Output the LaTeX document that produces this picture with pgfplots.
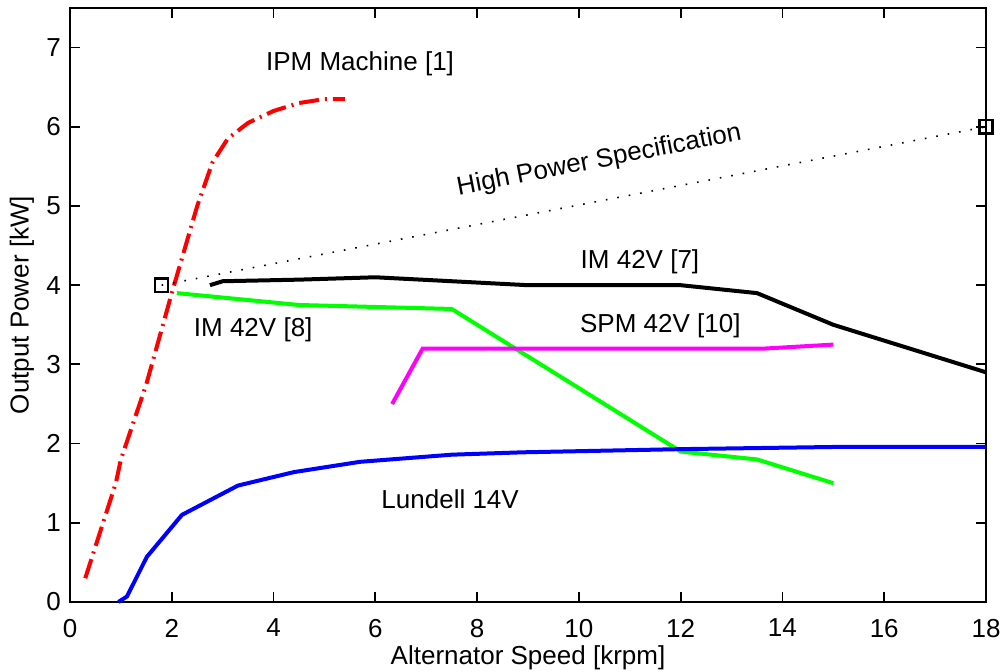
\documentclass[border=0pt]{standalone}
\usepackage{pgfplots}
\pgfplotsset{compat=1.18}
\usepackage{fontspec}
\setmainfont{Liberation Sans}
\definecolor{mgreen}{rgb}{0,1,0}
\definecolor{mmag}{rgb}{1,0,1}
\definecolor{mblue}{rgb}{0,0,1}
\definecolor{mred}{rgb}{1,0,0}
\begin{document}
\fontsize{13}{15}\selectfont
\begin{tikzpicture}
\begin{axis}[
  scale only axis,
  width=458pt, height=297pt,
  xmin=0, xmax=18, ymin=0, ymax=7.5,
  xtick={0,2,...,18}, ytick={0,1,...,7},
  tick align=inside, tick pos=both,
  major tick length=5pt,
  axis line style={line width=0.9pt},
  every tick/.style={black, line width=0.9pt},
  /pgf/number format/assume math mode=true,
  ticklabel style={font=\fontsize{13}{15}\selectfont},
  xticklabel style={yshift=-4pt},
  label style={font=\fontsize{13}{15}\selectfont},
  xlabel={Alternator Speed [krpm]},
  ylabel={Output Power [kW]},
  every axis x label/.style={at={([yshift=-28pt]axis description cs:0.5,0)}, anchor=center},
  every axis y label/.style={at={([xshift=-24pt]axis description cs:0,0.5)}, rotate=90, anchor=center},
  clip=false,
]
% IPM Machine
\addplot[mred, line width=2pt, dash pattern=on 10pt off 3pt on 1pt off 3pt] coordinates {
 (0.3,0.3) (0.9,1.5) (1.0,1.8) (1.5,2.75) (2.0,3.9) (2.5,5.0) (2.8,5.55) (3.1,5.85) (3.5,6.05) (4.0,6.2) (4.5,6.3) (5.0,6.35) (5.4,6.35)};
% High power specification
\addplot[black, line width=0.8pt, dash pattern=on 0.8pt off 5pt] coordinates {(1.8,4) (18,6)};
\addplot[black, only marks, mark=square, mark size=3.3pt, mark options={line width=1.2pt}] coordinates {(1.8,4) (18,6)};
% IM 42V [7]
\addplot[black, line width=2pt] coordinates {
 (2.75,4.0) (3.0,4.05) (4.5,4.07) (6.0,4.1) (9.0,4.0) (12.0,4.0) (13.5,3.9) (15.0,3.5) (18.0,2.9)};
% IM 42V [8]
\addplot[mgreen, line width=2pt] coordinates {
 (2.1,3.9) (4.5,3.75) (7.5,3.7) (12.0,1.9) (13.5,1.8) (15.0,1.5)};
% SPM 42V [10]
\addplot[mmag, line width=2pt] coordinates {
 (6.33,2.5) (6.93,3.2) (13.65,3.2) (15.0,3.25)};
% Lundell 14V
\addplot[mblue, line width=2pt] coordinates {
 (0.95,0) (1.12,0.07) (1.51,0.57) (2.2,1.1) (3.3,1.47) (4.4,1.64) (5.7,1.77) (7.5,1.86) (8.9,1.89) (12.0,1.93) (15.3,1.96) (18.0,1.96)};
\node at (axis cs:5.7,6.8) {IPM Machine [1]};
\node[rotate=11] at (axis cs:10.4,5.57) {High Power Specification};
\node at (axis cs:11.2,4.29) {IM 42V [7]};
\node at (axis cs:3.6,3.44) {IM 42V [8]};
\node at (axis cs:11.6,3.49) {SPM 42V [10]};
\node at (axis cs:7.47,1.3) {Lundell 14V};
\end{axis}
\pgfresetboundingbox
\path ([shift={(-35pt,-35pt)}]current axis.south west) rectangle ([shift={(8.5pt,4pt)}]current axis.north east);
\end{tikzpicture}
\end{document}
